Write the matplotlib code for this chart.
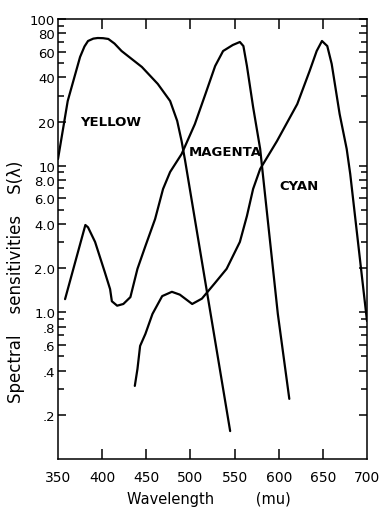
import matplotlib
matplotlib.use("Agg")
import matplotlib.pyplot as plt
from matplotlib.ticker import FixedLocator, FixedFormatter, NullFormatter

# spectral sensitivity curves, wavelength in m-mu, sensitivity on a log axis
yellow_wl = [350, 361, 375, 380, 384, 390, 395, 401, 407, 414, 422, 445, 463, 477, 485, 490, 494, 545]
yellow_s = [11.1, 27.6, 55.1, 65.0, 70.8, 73.5, 74.2, 74.0, 73.1, 68.0, 60.5, 47.1, 36.1, 27.6, 20.2, 14.7, 10.8, 0.155]

magenta_wl = [358, 381, 384, 392, 403, 409, 411, 417, 424, 432, 440, 449, 460, 469, 477,
              490, 505, 517, 528, 537, 548, 556, 560, 564, 571, 579, 582, 599, 612]
magenta_s = [1.23, 3.94, 3.8, 3.02, 1.88, 1.44, 1.19, 1.11, 1.14, 1.27, 1.98, 2.83, 4.33, 6.94, 9.06,
             12.0, 19.2, 30.8, 47.8, 60.5, 66.5, 69.7, 65.4, 47.8, 25.1, 13.0, 8.78, 0.975, 0.257]

cyan_wl = [437, 440, 443, 449, 457, 468, 479, 488, 502, 513, 528, 541, 556, 564, 571, 579,
           598, 621, 635, 643, 649, 655, 660, 669, 677, 681, 700]
cyan_s = [0.315, 0.411, 0.59, 0.713, 0.975, 1.29, 1.38, 1.32, 1.14, 1.24, 1.59, 1.98, 3.02, 4.54, 6.94, 9.5,
          14.7, 26.3, 44.2, 60.5, 70.8, 65.4, 49.4, 22.5, 13.0, 8.78, 0.873]

x_ticks = [400, 450, 500, 550, 600, 650]
x_labels = ["350", "400", "450", "500", "550", "600", "650", "700"]
y_major = [0.2, 0.4, 0.6, 0.8, 1, 2, 4, 6, 8, 10, 20, 40, 60, 80, 100]
y_labels = [".2", ".4", ".6", ".8", "1.0", "2.0", "4.0", "6.0", "8.0", "10", "20", "40", "60", "80", "100"]
y_minor = [0.3, 0.5, 0.7, 0.9, 3, 5, 7, 9, 30, 50, 70, 90]

fig = plt.figure(figsize=(3.85, 5.1), dpi=100)
ax = fig.add_axes([58 / 385, 50 / 510, 309 / 385, 440 / 510])

for wl, s in [(yellow_wl, yellow_s), (magenta_wl, magenta_s), (cyan_wl, cyan_s)]:
    ax.plot(wl, s, color="black", lw=1.6, solid_joinstyle="round", solid_capstyle="round")

ax.set_yscale("log")
ax.set_xlim(350, 700)
ax.set_ylim(0.1, 100)

ax.xaxis.set_major_locator(FixedLocator(x_ticks))
ax.xaxis.set_major_formatter(NullFormatter())
ax.yaxis.set_major_locator(FixedLocator(y_major))
ax.yaxis.set_major_formatter(FixedFormatter(y_labels))
ax.yaxis.set_minor_locator(FixedLocator(y_minor))
ax.yaxis.set_minor_formatter(NullFormatter())

ax.tick_params(axis="x", which="major", direction="in", length=7, width=1.1,
               top=True, bottom=True, labelbottom=False)
ax.tick_params(axis="y", which="major", direction="in", length=6, width=1.1,
               left=True, right=True, labelsize=9.5, pad=2)
ax.tick_params(axis="y", which="minor", direction="in", length=4, width=1.1,
               left=True, right=True)
for sp in ax.spines.values():
    sp.set_linewidth(1.1)

# x tick labels include the corner values 350 and 700
for i, lab in enumerate(x_labels):
    ax.text(350 + 50 * i, -0.025, lab, transform=ax.get_xaxis_transform(),
            ha="center", va="top", fontsize=10)

ax.text(0.487, -0.073, "Wavelength         (mu)", transform=ax.transAxes,
        ha="center", va="top", fontsize=10.5)
ax.set_ylabel("Spectral    sensitivities    S(λ)", fontsize=12)
ax.yaxis.set_label_coords(-0.107, 0.405)

ax.text(410, 19.9, "YELLOW", ha="center", va="center", fontsize=9.5, fontweight="bold")
ax.text(540, 12.4, "MAGENTA", ha="center", va="center", fontsize=9.5, fontweight="bold")
ax.text(623, 7.27, "CYAN", ha="center", va="center", fontsize=9.5, fontweight="bold")

fig.savefig("out.png", dpi=100, facecolor="white")
